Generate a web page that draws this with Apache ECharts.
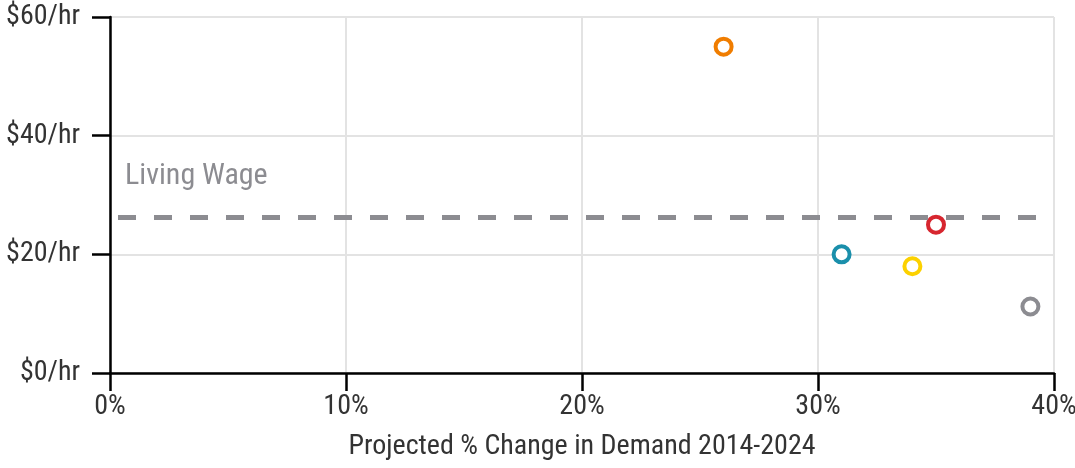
<!DOCTYPE html>
<html>
<head>
<meta charset="utf-8">
<script src="https://cdn.jsdelivr.net/npm/echarts@6/dist/echarts.min.js"></script>
<style>
  html, body { margin: 0; padding: 0; background: #fff; }
  #chart { width: 1075px; height: 468px; }
</style>
</head>
<body>
<div id="chart"></div>
<script>
// projected growth (%) vs hourly wage, one colour per occupation
var growthPct = [26, 31, 34, 35, 39];
var hourlyWage = [55, 20, 18, 25, 11.2];
var pointColors = ['#f07d00', '#1a8fab', '#fcd100', '#d7262f', '#8c8c91'];
var livingWage = 26.25;
var xTicks = [0, 10, 20, 30, 40];
var yTicks = [0, 20, 40, 60];

var FONT = "'Roboto Condensed', 'Liberation Sans Narrow', 'DejaVu Sans Condensed', sans-serif";

var pts = [];
for (var i = 0; i < growthPct.length; i++) {
    pts.push({
        value: [growthPct[i], hourlyWage[i]],
        itemStyle: { color: '#fff', borderColor: pointColors[i], borderWidth: 4, opacity: 1 }
    });
}

var myChart = echarts.init(document.getElementById('chart'));
myChart.setOption({
    animation: false,
    grid: { left: 110, right: 21, top: 17, bottom: 95, outerBoundsMode: 'none' },
    xAxis: {
        type: 'value',
        min: xTicks[0],
        max: xTicks[xTicks.length - 1],
        interval: 10,
        name: 'Projected % Change in Demand 2014-2024',
        nameLocation: 'middle',
        nameGap: 60,
        nameTextStyle: { fontFamily: FONT, fontSize: 28, color: '#333' },
        axisLine: { lineStyle: { color: '#000', width: 2.5 } },
        axisTick: { show: true, length: 18, lineStyle: { color: '#000', width: 2.5 } },
        axisLabel: { formatter: '{value}%', fontFamily: FONT, fontSize: 28, color: '#333', margin: 20 },
        splitLine: { show: true, lineStyle: { color: '#e3e3e3', width: 2 } }
    },
    yAxis: {
        type: 'value',
        min: yTicks[0],
        max: yTicks[yTicks.length - 1],
        interval: 20,
        axisLine: { show: true, lineStyle: { color: '#000', width: 2.5 } },
        axisTick: { show: true, length: 18, lineStyle: { color: '#000', width: 2.5 } },
        axisLabel: { formatter: '${value}/hr', fontFamily: FONT, fontSize: 28, color: '#333', margin: 30 },
        splitLine: { show: true, lineStyle: { color: '#e3e3e3', width: 2 } }
    },
    series: [{
        type: 'scatter',
        symbol: 'circle',
        symbolSize: 16,
        data: pts,
        z: 3,
        markLine: {
            silent: true,
            symbol: 'none',
            lineStyle: { color: '#8c8c91', width: 5, type: [18, 18], dashOffset: -8 },
            label: {
                show: true,
                formatter: 'Living Wage',
                position: 'insideStartTop',
                distance: [15, 26],
                fontFamily: FONT,
                fontSize: 30,
                color: '#8c8c91'
            },
            data: [{ yAxis: livingWage }]
        }
    }]
});
</script>
</body>
</html>
